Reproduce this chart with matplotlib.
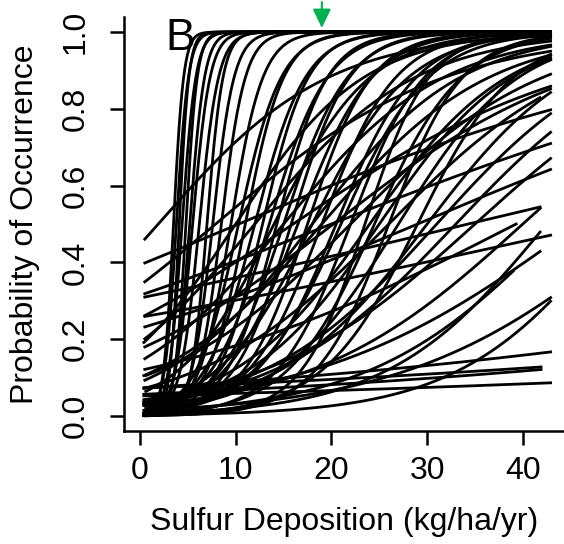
import numpy as np
import matplotlib.pyplot as plt

plt.rcParams['font.family'] = ['Liberation Sans', 'DejaVu Sans']

# fitted logistic curves, one per species: p = 1 / (1 + exp(-rate * (S - mid)))
# mid = deposition where p = 0.5, rate = steepness, x_lo/x_hi = range of the data
mid = [3.5, 3.8, 4.1, 4.4, 4.8, 5.2, 5.5, 6.2, 7.0, 7.6, 8.5,
       9.5, 10.3, 11.0, 12.0, 12.8, 13.5, 14.3, 15.0, 15.8, 16.5, 17.5, 19.0, 20.5, 22.0, 23.5, 24.5, 26.0,
       1.9, 7.9, 10.0, 14.0, 18.0, 21.0, 12.0,
       19.0, 25.0, 29.0, 22.0, 16.0, 26.0, 31.0, 33.0, 20.0, 29.0, 10.3, 20.2,
       34.3, 40.0, 42.5, 48.2, 45.8, 44.0, 39.3, 53.0, 50.0, 35.0, 30.0,
       117.0, 170.0, 141.0, 230.0,
       18.0, 24.0, 27.0, 15.0]
rate = [1.9, 1.6, 2.0, 1.4, 1.7, 1.3, 1.1, 1.0, 1.2, 0.9, 0.8,
        0.6, 0.45, 0.5, 0.38, 0.42, 0.33, 0.38, 0.3, 0.33, 0.26, 0.3, 0.26, 0.24, 0.26, 0.3, 0.22, 0.26,
        0.113, 0.084, 0.15, 0.2, 0.2, 0.22, 0.12,
        0.115, 0.145, 0.2, 0.1, 0.067, 0.1, 0.11, 0.105, 0.039, 0.042, 0.042, 0.077,
        0.0237, 0.09, 0.12, 0.022, 0.072, 0.1, 0.051, 0.08, 0.12, 0.09, 0.13,
        0.0217, 0.015, 0.02, 0.0126,
        0.13, 0.14, 0.16, 0.12]
x_lo = [0.4, 0.4, 0.5, 0.4, 0.6, 0.4, 0.5, 0.4, 0.7, 0.4, 0.5,
        0.4, 0.6, 0.4, 0.5, 0.4, 0.8, 0.4, 0.5, 0.4, 0.6, 0.4, 0.5, 0.4, 0.7, 0.4, 0.5, 0.4,
        0.5, 0.5, 0.4, 0.6, 0.4, 0.5, 0.5,
        0.4, 0.5, 0.4, 0.6, 0.5, 0.4, 0.5, 0.4, 0.5, 0.5, 0.5, 0.5,
        0.5, 0.4, 0.5, 0.5, 0.4, 0.6, 0.5, 0.4, 0.5, 0.4, 0.6,
        0.4, 0.5, 0.4, 0.4,
        0.5, 0.4, 0.6, 0.5]
x_hi = [42.9, 42.9, 42.9, 42.9, 42.9, 42.9, 42.9, 42.9, 42.9, 42.9, 42.9,
        42.9, 42.9, 42.9, 42.9, 42.9, 42.9, 42.9, 42.9, 42.9, 42.9, 42.9, 42.9, 42.9, 42.9, 42.9, 42.9, 42.9,
        42.9, 42.9, 42.9, 42.9, 42.9, 42.9, 42.9,
        42.9, 42.9, 42.9, 42.9, 42.9, 41.8, 42.9, 42.9, 42.9, 42.9, 42.9, 42.9,
        41.8, 41.8, 41.8, 42.9, 41.8, 39.0, 39.3, 42.9, 42.9, 42.9, 42.9,
        42.9, 41.9, 41.9, 42.9,
        42.9, 42.9, 42.9, 42.9]

xticks = [0, 10, 20, 30, 40]
yticks = [0.0, 0.2, 0.4, 0.6, 0.8, 1.0]
arrow_x = 19.0

fig = plt.figure(figsize=(5.64, 5.44), dpi=100)
ax = fig.add_axes([0.2199, 0.2077, 0.7801, 0.7611])

for m, k, a, b in zip(mid, rate, x_lo, x_hi):
    s = np.linspace(a, b, 300)
    p = 1.0 / (1.0 + np.exp(-k * (s - m)))
    ax.plot(s, p, color='black', lw=2.0)

ax.set_xlim(-1.67, 44.3)
ax.set_ylim(-0.039, 1.039)

ax.spines['top'].set_visible(False)
ax.spines['right'].set_visible(False)
ax.spines['left'].set_linewidth(1.8)
ax.spines['bottom'].set_linewidth(1.8)

ax.set_xticks(xticks)
ax.set_yticks(yticks)
ax.set_yticklabels(['%.1f' % v for v in yticks])
ax.tick_params(direction='out', length=10, width=1.8, labelsize=23)
ax.tick_params(axis='x', pad=8)
ax.tick_params(axis='y', pad=14, labelrotation=90)
for lab in ax.get_yticklabels():
    lab.set_va('center')

ax.set_xlabel('Sulfur Deposition (kg/ha/yr)', fontsize=23, va='center')
ax.set_ylabel('Probability of Occurrence', fontsize=23, va='center')
ax.xaxis.set_label_coords(0.5, -0.22)
ax.yaxis.set_label_coords(-0.225, 0.5)

ax.text(2.6, 0.953, 'B', fontsize=32, ha='left', va='baseline')

ax.annotate('', xy=(arrow_x, 1.003), xytext=(arrow_x, 1.085),
            arrowprops=dict(arrowstyle='-|>,head_length=1.15,head_width=0.55',
                            mutation_scale=10, color='#00b050', lw=1.5),
            annotation_clip=False)

fig.savefig('out.png', dpi=100)
plt.close()
